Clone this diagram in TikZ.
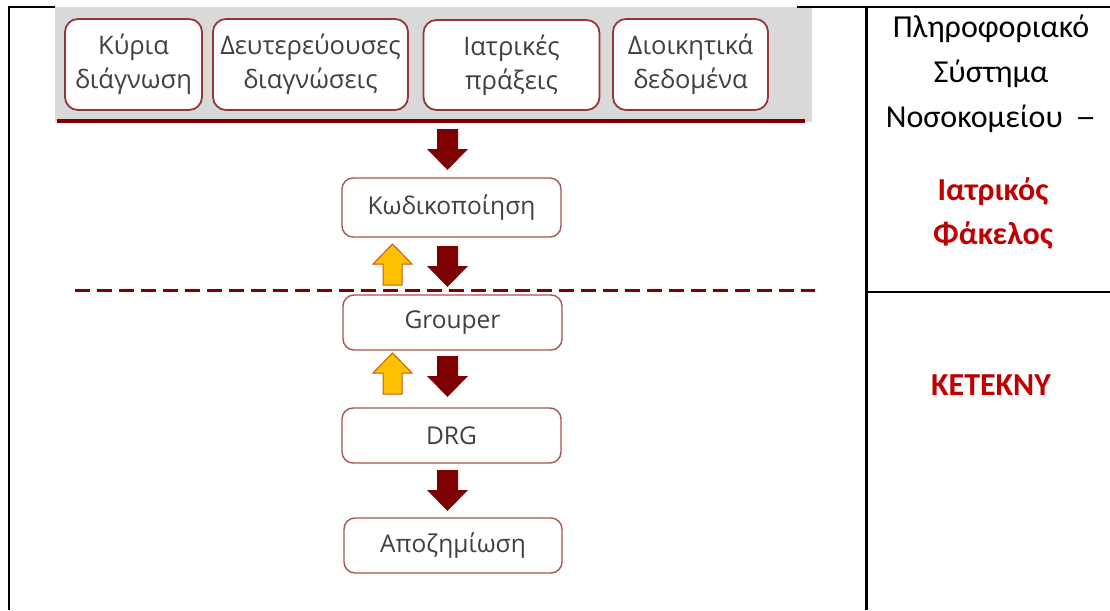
\documentclass[tikz,border=0pt]{standalone}
\usepackage{fontspec}
\newfontfamily\boxfont{Open Sans}
\newfontfamily\sidefont{Carlito}
\definecolor{boxtext}{HTML}{404040}
\definecolor{boxedge}{HTML}{953735}
\definecolor{darkred}{HTML}{7F0000}
\definecolor{sidered}{HTML}{C00000}
\definecolor{bggray}{HTML}{D9D9D9}
\definecolor{arrowyellow}{HTML}{FFC000}
\definecolor{arrowedge}{HTML}{C55A11}
\begin{document}
\begin{tikzpicture}[x=1pt,y=-1pt,
  topbox/.style={draw=boxedge,line width=1.8pt,fill=white,rounded corners=13pt,
    align=center,text=boxtext,font=\boxfont\fontsize{25.5}{34}\selectfont,inner sep=0pt},
  midbox/.style={draw=boxedge!85,line width=1.4pt,fill=white,rounded corners=11pt,
    align=center,text=boxtext,font=\boxfont\fontsize{24.5}{28}\selectfont,inner sep=0pt,
    minimum width=219pt},
  rule/.style={line width=2.5pt,black},
  sidetext/.style={align=center,font=\sidefont\fontsize{32}{45}\selectfont},
  sidebold/.style={align=center,text=sidered,font=\sidefont\bfseries\fontsize{32}{44}\selectfont},
  downarrow/.pic={\fill[darkred] (-10.5,-41) -- (10.5,-41) -- (10.5,-21) -- (20.5,-21) -- (0,0) -- (-20.5,-21) -- (-10.5,-21) -- cycle;},
  uparrow/.pic={\draw[fill=arrowyellow,draw=arrowedge,line width=1pt,line join=miter] (-9.5,41) -- (9.5,41) -- (9.5,20) -- (19.5,20) -- (0,0) -- (-19.5,20) -- (-9.5,20) -- cycle;}
]
\useasboundingbox (0,0) rectangle (1110,610);
% table
\draw[rule] (9,6) -- (9,610);
\draw[rule] (866.5,6) -- (866.5,610);
\draw[rule] (866,292) -- (1110,292);
\fill[bggray] (55,7) rectangle (812,122);
\draw[rule] (8,7.2) -- (55,7.2);
\draw[rule] (797,7.2) -- (1110,7.2);
\draw[darkred,line width=4.5pt] (57,121) -- (805,121);
% top boxes
\node[topbox,minimum width=137pt,minimum height=91pt] (kyria) at (133.5,64.5) {Κύρια\\διάγνωση};
\node[topbox,minimum width=195pt,minimum height=91pt] (deut) at (310.5,64.5) {Δευτερεύουσες\\διαγνώσεις};
\node[topbox,minimum width=176pt,minimum height=90pt] (iatr) at (511.5,65) {Ιατρικές\\πράξεις};
\node[topbox,minimum width=155pt,minimum height=91pt] (dioik) at (690.5,64.5) {Διοικητικά\\δεδομένα};
% middle boxes
\node[midbox,minimum height=59pt] (kod) at (451.5,207.5) {Κωδικοποίηση};
\node[midbox,minimum height=55pt] (grp) at (452.5,322.5) {Grouper};
\node[midbox,minimum height=55pt] (drg) at (451.5,435.5) {DRG};
\node[midbox,minimum height=55pt,minimum width=218pt] (apoz) at (453,545.5) {Αποζημίωση};
% dashed line
\coordinate (dl) at (75,290);
\coordinate (dr) at (815,290);
\draw[darkred,line width=3pt,dash pattern=on 15pt off 7pt] (dl) -- (dr);
% arrows
\pic at (447.5,170) {downarrow};
\pic at (447.5,287) {downarrow};
\pic at (447.5,397) {downarrow};
\pic at (447.5,511) {downarrow};
\pic at (392.5,244) {uparrow};
\pic at (392.5,353) {uparrow};
% side texts
\node[sidetext] (pls) at (991,74) {Πληροφοριακό\\Σύστημα\\Νοσοκομείου \,\scalebox{1.3}[1]{–}};
\node[sidebold] (iat) at (993,214) {Ιατρικός\\Φάκελος};
\node[sidebold] (ket) at (991,385) {ΚΕΤΕΚΝΥ};
\end{tikzpicture}
\end{document}
